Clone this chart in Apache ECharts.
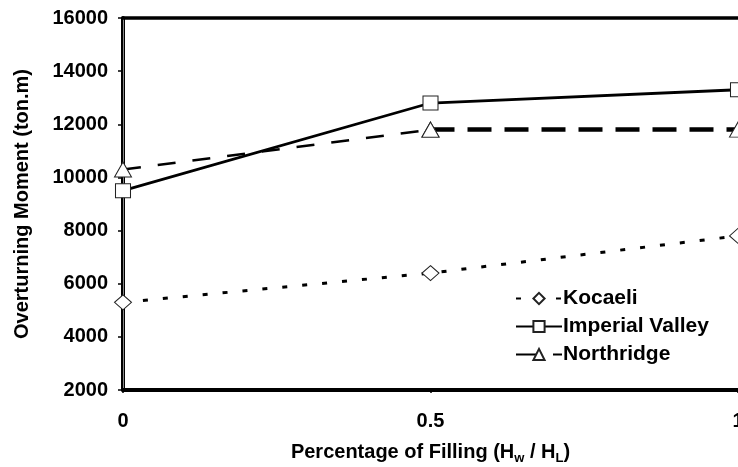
<!DOCTYPE html>
<html>
<head>
<meta charset="utf-8">
<script src="https://cdn.jsdelivr.net/npm/echarts@6/dist/echarts.min.js"></script>
<style>
  html, body { margin: 0; padding: 0; background: #fff; }
  #chart { width: 738px; height: 467px; }
</style>
</head>
<body>
<div id="chart"></div>
<script>
// Filling ratio Hw/HL and overturning moment (ton.m) per earthquake record
var filling = [0, 0.5, 1];
var kocaeli = [5300, 6400, 7800];
var imperialValley = [9500, 12800, 13300];
var northridge = [10300, 11800, 11800];
var yTicks = [2000, 4000, 6000, 8000, 10000, 12000, 14000, 16000];
var seriesNames = ['Kocaeli', 'Imperial Valley', 'Northridge'];

function pairs(xs, ys) {
  return xs.map(function (x, i) { return [x, ys[i]]; });
}

var FONT = '"Liberation Sans", Arial, sans-serif';
var markerStyle = { color: '#fff', borderColor: '#222', borderWidth: 1 };

var chart = echarts.init(document.getElementById('chart'), null, { renderer: 'canvas' });

chart.setOption({
  backgroundColor: '#fff',
  animation: false,
  textStyle: { fontFamily: FONT },
  grid: { left: 123, right: 0, top: 18, bottom: 77, containLabel: false, outerBoundsMode: 'none' },
  legend: {
    data: seriesNames,
    orient: 'vertical',
    left: 510,
    top: 283,
    itemWidth: 46,
    itemHeight: 14,
    itemGap: 7,
    textStyle: { fontFamily: FONT, fontWeight: 'bold', fontSize: 21, color: '#000', lineHeight: 16, padding: [0, 0, 0, -4] }
  },
  xAxis: [{
    type: 'value',
    min: filling[0],
    max: filling[filling.length - 1],
    interval: 0.5,
    position: 'bottom',
    splitLine: { show: false },
    axisLine: { lineStyle: { color: '#000', width: 4 } },
    axisTick: { length: 3, lineStyle: { color: '#000', width: 1.5 } },
    axisLabel: {
      margin: 21,
      color: '#000',
      fontWeight: 'bold',
      fontSize: 20,
      fontFamily: FONT,
      formatter: function (v) { return String(v); }
    },
    name: '{t|Percentage of Filling (H}{s|w}{t| / H}{s|L}{t|)}',
    nameLocation: 'middle',
    nameGap: 50,
    nameTextStyle: {
      rich: {
        t: { fontFamily: FONT, fontWeight: 'bold', fontSize: 20, color: '#000' },
        s: { fontFamily: FONT, fontWeight: 'bold', fontSize: 13, color: '#000', verticalAlign: 'bottom', padding: [12, 0, 0, 0] }
      }
    }
  }, {
    type: 'value',
    position: 'top',
    min: filling[0],
    max: filling[filling.length - 1],
    axisLine: { show: true, lineStyle: { color: '#000', width: 3.5 } },
    axisTick: { show: false },
    axisLabel: { show: false },
    splitLine: { show: false }
  }],
  yAxis: [{
    type: 'value',
    min: yTicks[0],
    max: yTicks[yTicks.length - 1],
    interval: yTicks[1] - yTicks[0],
    splitLine: { show: false },
    axisLine: { show: true, lineStyle: { color: '#000', width: 4 } },
    axisTick: { show: true, length: 5, lineStyle: { color: '#000', width: 1.5 } },
    axisLabel: {
      margin: 15, color: '#000', fontWeight: 'bold', fontSize: 20, fontFamily: FONT,
      formatter: function (v) { return String(v); }
    },
    name: 'Overturning Moment (ton.m)',
    nameLocation: 'middle',
    nameGap: 91,
    nameTextStyle: { fontFamily: FONT, fontWeight: 'bold', fontSize: 20, color: '#000' }
  }, {
    type: 'value',
    position: 'right',
    min: yTicks[0],
    max: yTicks[yTicks.length - 1],
    axisLine: { show: true, lineStyle: { color: '#888', width: 1 } },
    axisTick: { show: false },
    axisLabel: { show: false },
    splitLine: { show: false }
  }],
  series: [
    {
      name: 'Kocaeli',
      type: 'line',
      data: pairs(filling, kocaeli),
      symbol: 'diamond',
      symbolSize: [17, 15],
      itemStyle: markerStyle,
      lineStyle: { color: '#000', width: 3, type: [5, 15] },
      z: 3
    },
    {
      name: 'Imperial Valley',
      type: 'line',
      data: pairs(filling, imperialValley),
      symbol: 'rect',
      symbolSize: [15, 14],
      itemStyle: markerStyle,
      lineStyle: { color: '#000', width: 2.8, type: 'solid' },
      z: 3
    },
    {
      // Heavy dashes on the upper half of the filling range
      name: 'Northridge',
      type: 'line',
      data: pairs(filling.slice(1), northridge.slice(1)),
      symbol: 'triangle',
      symbolSize: [17, 15],
      itemStyle: markerStyle,
      lineStyle: { color: '#000', width: 4.5, type: [24, 13] },
      z: 3
    },
    {
      // Lighter long dashes from empty to half-filled
      name: 'Northridge',
      type: 'line',
      data: pairs(filling.slice(0, 2), northridge.slice(0, 2)),
      symbol: 'triangle',
      symbolSize: [17, 15],
      itemStyle: markerStyle,
      lineStyle: { color: '#000', width: 2.5, type: [18, 17] },
      z: 4
    }
  ]
});
</script>
</body>
</html>
